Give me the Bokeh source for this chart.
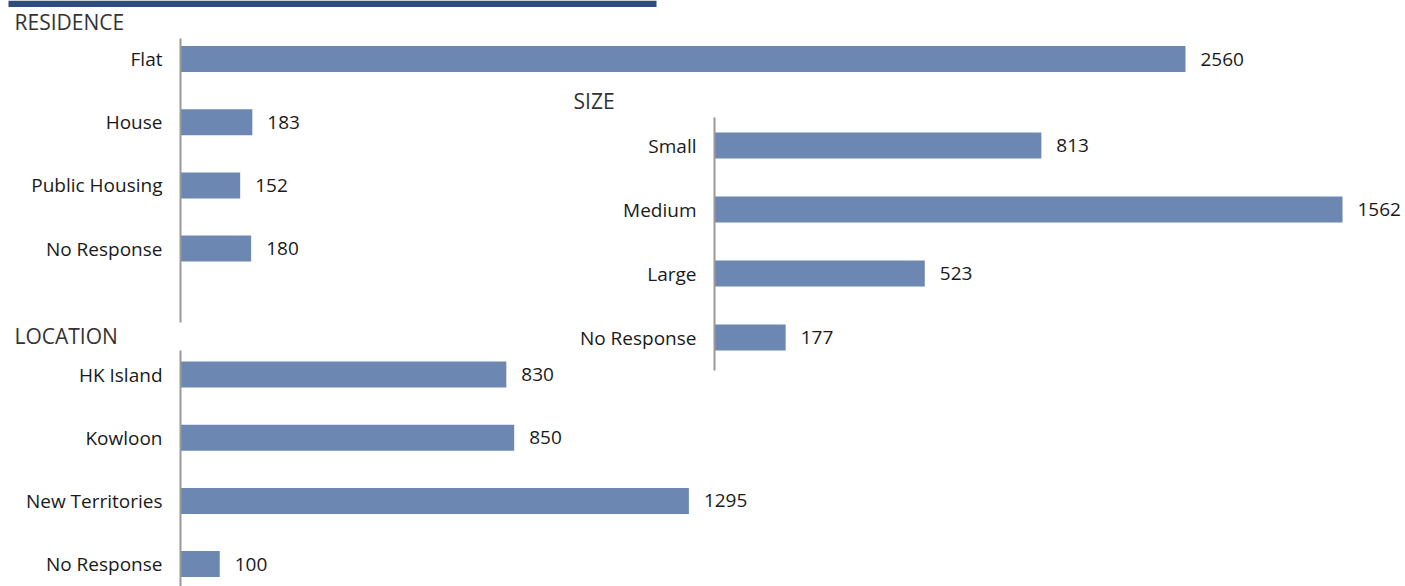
from bokeh.plotting import figure
from bokeh.models import Range1d, ColumnDataSource
from bokeh.core.properties import value
from bokeh.embed import file_html
from bokeh.resources import INLINE

# ---- data ----
residence_cats = ["Flat", "House", "Public Housing", "No Response"]
residence_vals = [2560, 183, 152, 180]
size_cats = ["Small", "Medium", "Large", "No Response"]
size_vals = [813, 1562, 523, 177]
location_cats = ["HK Island", "Kowloon", "New Territories", "No Response"]
location_vals = [830, 850, 1295, 100]
titles = ["RESIDENCE", "SIZE", "LOCATION"]

# ---- layout (page pixels) ----
W, H = 1405, 586
OFF = 0
FONT = "Open Sans"
BAR = "#6c88b2"
AXIS = "#999999"
TXT = "#1a1a1a"
BANNER = "#2e4d7d"

p = figure(width=W, height=H, output_backend="svg", toolbar_location=None,
           x_range=Range1d(0, W), y_range=Range1d(H, 0), min_border=0,
           x_axis_type=None, y_axis_type=None)
p.grid.visible = False
p.outline_line_color = None
p.background_fill_color = "white"
p.border_fill_color = "white"

# header banner strip (page pixel frame on the default ranges)
p.quad(left=[8], right=[656], top=[0], bottom=[6.5], fill_color=BANNER, line_color=None)


def add_chart(name, cats, vals, x0, px_per_unit, y0, step, line_top, line_bot,
              title, title_x, title_y):
    # x range: value 0 at page x0
    xs = -(x0 - OFF) / px_per_unit
    p.extra_x_ranges[name] = Range1d(xs, xs + W / px_per_unit)
    # y range: index 0 at page y0, increasing downward
    yt = -(y0 - OFF) / step
    p.extra_y_ranges[name] = Range1d(yt + H / step, yt)
    idx = list(range(len(cats)))
    src = ColumnDataSource(dict(y=idx, v=vals, cat=cats, lab=[str(v) for v in vals],
                                zero=[0] * len(cats)))
    p.hbar(y="y", left=0, right="v", height=26 / step, source=src,
           fill_color=BAR, line_color=None,
           x_range_name=name, y_range_name=name)
    p.segment(x0=0, x1=0, y0=(line_top - y0) / step, y1=(line_bot - y0) / step,
              line_color=AXIS, line_width=2, x_range_name=name, y_range_name=name)
    p.text(x="zero", y="y", text="cat", source=src, x_offset=-18,
           text_align="right", text_baseline="middle", text_font=value(FONT),
           text_font_size="19px", text_color=TXT,
           x_range_name=name, y_range_name=name)
    p.text(x="v", y="y", text="lab", source=src, x_offset=15,
           text_align="left", text_baseline="middle", text_font=value(FONT),
           text_font_size="19px", text_color=TXT,
           x_range_name=name, y_range_name=name)
    p.text(x=[0], y=[0], text=[title], x_offset=title_x - x0, y_offset=title_y - y0,
           text_align="left", text_baseline="middle", text_font=value(FONT),
           text_font_size="21px", text_color="#333333",
           x_range_name=name, y_range_name=name)


add_chart("res", residence_cats, residence_vals, 180, 1005 / 2560, 58.5, 63.2,
          38, 322, titles[0], 14, 21)
add_chart("size", size_cats, size_vals, 714, 628 / 1562, 145, 64,
          117, 370, titles[1], 573, 100)
add_chart("loc", location_cats, location_vals, 180, 1005 / 2560, 374, 63.2,
          350, 600, titles[2], 14, 335)

open("out.html", "w").write(file_html(p, INLINE))
